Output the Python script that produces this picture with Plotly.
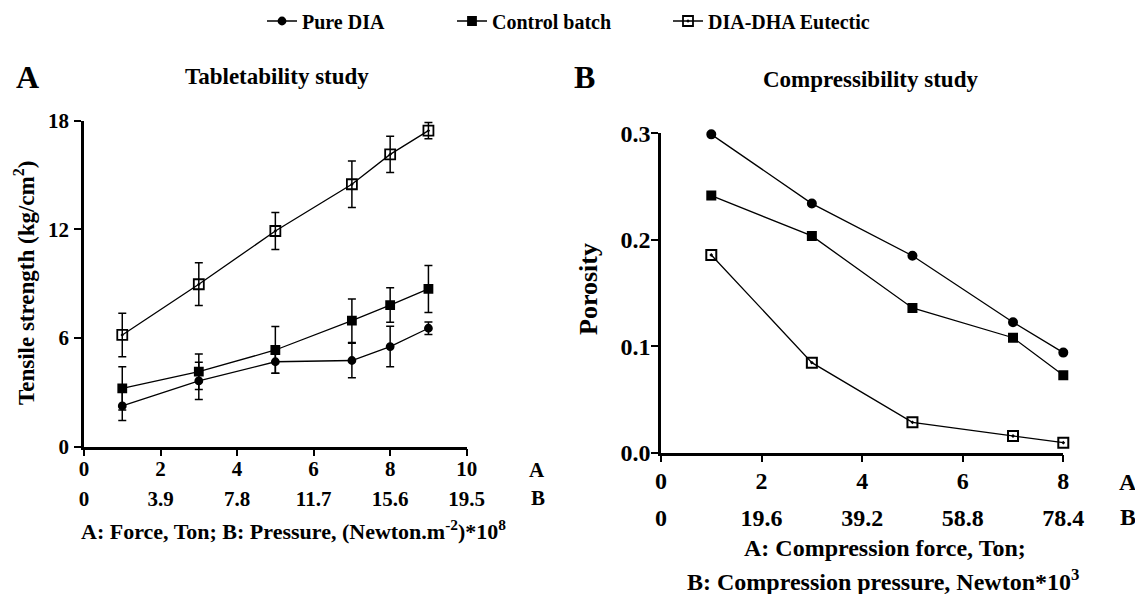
import plotly.graph_objects as go

# page body has an 8px margin: the figure is drawn from (8, 8) in the window
OFF = 8
W, H = 1143 - OFF, 594 - OFF

# ---------------- data ----------------
series_names = ["Pure DIA", "Control batch", "DIA-DHA Eutectic"]

force_A = [1, 3, 5, 7, 8, 9]
pure_ts = [2.25, 3.63, 4.69, 4.76, 5.53, 6.54]
pure_ts_err = [0.8, 1.03, 0.64, 0.95, 1.12, 0.35]
control_ts = [3.22, 4.14, 5.34, 6.96, 7.82, 8.71]
control_ts_err = [1.2, 0.98, 1.29, 1.2, 0.95, 1.3]
eut_ts = [6.17, 8.97, 11.91, 14.49, 16.14, 17.45]
eut_ts_err = [1.2, 1.18, 1.02, 1.28, 1.0, 0.45]

force_B = [1, 3, 5, 7, 8]
pure_por = [0.299, 0.234, 0.185, 0.1225, 0.094]
control_por = [0.2415, 0.2036, 0.136, 0.108, 0.0727]
eut_por = [0.1857, 0.0846, 0.0285, 0.0157, 0.0094]

A_force_ticks = [0, 2, 4, 6, 8, 10]
A_pressure_ticks = [0, 3.9, 7.8, 11.7, 15.6, 19.5]
A_pressure_labels = ["0", "3.9", "7.8", "11.7", "15.6", "19.5"]
B_force_ticks = [0, 2, 4, 6, 8]
B_pressure_ticks = [0, 19.6, 39.2, 58.8, 78.4]
B_pressure_labels = ["0", "19.6", "39.2", "58.8", "78.4"]
A_y_ticks = [0, 6, 12, 18]
B_y_ticks = [0, 0.1, 0.2, 0.3]

# ---------------- styles ----------------
FONT = "Liberation Serif"
symbols = ["circle", "square", "square-open-dot"]
msizes_A = [7, 8, 10]
msizes_B = [8, 8, 10]
legends = ["legend", "legend2", "legend3"]


def px_x(p):
    return (p - OFF) / W


def px_y(p):
    return 1 - (p - OFF) / H


fig = go.Figure()

ts_vals = [pure_ts, control_ts, eut_ts]
ts_errs = [pure_ts_err, control_ts_err, eut_ts_err]
por_vals = [pure_por, control_por, eut_por]

for i, name in enumerate(series_names):
    fig.add_trace(go.Scatter(
        x=force_A, y=ts_vals[i], name=name, mode="lines+markers",
        xaxis="x", yaxis="y", legend=legends[i],
        line=dict(color="black", width=1.3),
        marker=dict(symbol=symbols[i], size=msizes_A[i], color="black",
                    line=dict(color="black", width=1.8)),
        error_y=dict(type="data", array=ts_errs[i], visible=True,
                     color="black", thickness=1.5, width=4),
        cliponaxis=False,
    ))

for i, name in enumerate(series_names):
    fig.add_trace(go.Scatter(
        x=force_B, y=por_vals[i], name=name, mode="lines+markers",
        xaxis="x2", yaxis="y2", showlegend=False,
        line=dict(color="black", width=1.3),
        marker=dict(symbol=symbols[i], size=msizes_B[i], color="black",
                    line=dict(color="black", width=2)),
        cliponaxis=False,
    ))

axis_common = dict(
    showline=True, linecolor="black", linewidth=2.5, ticks="outside",
    ticklen=7, tickwidth=2, tickcolor="black", showgrid=False,
    zeroline=False, mirror=False, automargin=False,
)

dA_x = [px_x(84), px_x(466.7)]
dA_y = [px_y(446.7), px_y(120.7)]
dB_x = [px_x(661), px_x(1063.3)]
dB_y = [px_y(452.7), px_y(133.3)]

fig.update_layout(
    template="none",
    width=W, height=H,
    margin=dict(l=0, r=0, t=0, b=0, pad=0, autoexpand=False),
    paper_bgcolor="white", plot_bgcolor="white",
    font=dict(family=FONT, color="black", weight="bold", size=20),
    xaxis=dict(domain=dA_x, range=[0, 10], tickvals=A_force_ticks, anchor="y",
               tickfont=dict(size=21, family=FONT, weight="bold"),
               ticklabelstandoff=-6, **axis_common),
    yaxis=dict(domain=dA_y, range=[0, 18], tickvals=A_y_ticks, anchor="x",
               tickfont=dict(size=21, family=FONT, weight="bold"),
               ticklabelstandoff=1, **axis_common),
    xaxis3=dict(overlaying="x", anchor="y", side="bottom", range=[0, 19.5],
                tickvals=A_pressure_ticks, ticktext=A_pressure_labels,
                showline=False, ticks="", showgrid=False, zeroline=False,
                automargin=False,
                tickfont=dict(size=21, family=FONT, weight="bold"),
                ticklabelstandoff=37),
    xaxis2=dict(domain=dB_x, range=[0, 8], tickvals=B_force_ticks, anchor="y2",
                tickfont=dict(size=24, family=FONT, weight="bold"),
                ticklabelstandoff=-2, **axis_common),
    yaxis2=dict(domain=dB_y, range=[0, 0.3], tickvals=B_y_ticks, anchor="x2",
                tickformat=".1f",
                tickfont=dict(size=24, family=FONT, weight="bold"),
                ticklabelstandoff=-4, **axis_common),
    xaxis4=dict(overlaying="x2", anchor="y2", side="bottom", range=[0, 78.4],
                tickvals=B_pressure_ticks, ticktext=B_pressure_labels,
                showline=False, ticks="", showgrid=False, zeroline=False,
                automargin=False,
                tickfont=dict(size=24, family=FONT, weight="bold"),
                ticklabelstandoff=48),
)

# invisible traces so the overlaying pressure axes are drawn
fig.add_trace(go.Scatter(x=[A_pressure_ticks[0]], y=[0], xaxis="x3", yaxis="y",
                         mode="markers", marker=dict(opacity=0), showlegend=False,
                         hoverinfo="skip"))
fig.add_trace(go.Scatter(x=[B_pressure_ticks[0]], y=[0], xaxis="x4", yaxis="y2",
                         mode="markers", marker=dict(opacity=0), showlegend=False,
                         hoverinfo="skip"))

leg_common = dict(orientation="h", yanchor="middle", xanchor="left",
                  y=px_y(21), bgcolor="rgba(0,0,0,0)", borderwidth=0,
                  font=dict(size=20, family=FONT, weight="bold"))
fig.update_layout(
    legend=dict(x=px_x(262), **leg_common),
    legend2=dict(x=px_x(452), **leg_common),
    legend3=dict(x=px_x(668), **leg_common),
)


def ann(text, x, y, size, angle=0, xanchor="center"):
    fig.add_annotation(text=text, x=px_x(x), y=px_y(y), xref="paper", yref="paper",
                       showarrow=False, xanchor=xanchor, yanchor="middle",
                       textangle=angle,
                       font=dict(size=size, family=FONT, color="black", weight="bold"))


# panel labels & titles
ann("A", 27, 77, 32)
ann("Tabletability study", 277, 77, 23)
ann("B", 584, 77, 32)
ann("Compressibility study", 870, 79, 23)

# y titles
ann("Tensile strength (kg/cm<sup>2</sup>)", 24, 283, 23, angle=-90)
ann("Porosity", 589, 289, 26, angle=-90)

# row labels for dual x scales
ann("A", 537, 470, 21)
ann("B", 538, 498, 21)
ann("A", 1128, 482, 24)
ann("B", 1128, 517, 24)

# x titles
ann("A: Force, Ton; B: Pressure, (Newton.m<sup>-2</sup>)*10<sup>8</sup>", 293, 530, 22)
ann("A: Compression force, Ton;", 885, 548, 24)
ann("B: Compression pressure, Newton*10<sup>3</sup>", 883, 580, 24)

fig.write_html("out.html")
